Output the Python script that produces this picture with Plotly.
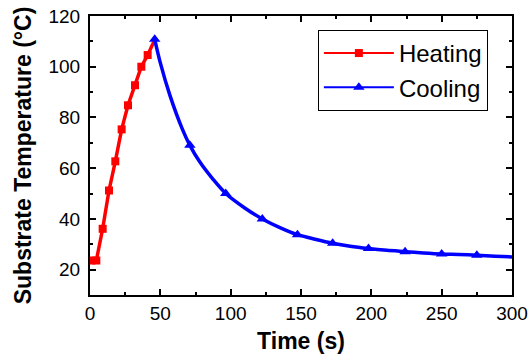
import plotly.graph_objects as go

heat_t = [1, 4.5, 9, 13.5, 18, 22.5, 27, 32, 36.5, 41, 45.5]
heat_T = [23.6, 23.6, 36.1, 51.2, 62.7, 75.3, 84.8, 92.7, 100, 104.6, 110]
heat_marker = [True] * 10 + [False]

cool_t = [46, 50, 57, 65.5, 71, 78, 87.5, 96.5, 110, 122.5, 135, 147.5, 160,
          172.5, 185, 198, 211, 224, 237, 250, 262, 275, 288, 300]
cool_T = [110.8, 101.5, 88.4, 75.6, 69, 62.5, 55.6, 50, 44.3, 40, 36.6, 33.8, 32,
          30.4, 29.2, 28.3, 27.6, 27.1, 26.6, 26.2, 26, 25.7, 25.3, 25]
cool_marker_t = [46, 71, 96.5, 122.5, 147.5, 172.5, 198, 224, 250, 275]

RED = "#ff0000"
BLUE = "#0000ff"
FONT = "Liberation Sans, Arial, sans-serif"

fig = go.Figure()

# Heating
fig.add_trace(go.Scatter(x=heat_t, y=heat_T, mode="lines", line=dict(color=RED, width=3.5),
                         showlegend=False, hoverinfo="skip"))
hm_t = [t for t, m in zip(heat_t, heat_marker) if m]
hm_T = [v for v, m in zip(heat_T, heat_marker) if m]
fig.add_trace(go.Scatter(x=hm_t, y=hm_T, mode="markers",
                         marker=dict(symbol="square", size=8, color=RED),
                         showlegend=False))

# Cooling
fig.add_trace(go.Scatter(x=cool_t, y=cool_T, mode="lines",
                         line=dict(color=BLUE, width=3.5, shape="spline", smoothing=0.8),
                         showlegend=False, hoverinfo="skip"))
cm_T = [cool_T[cool_t.index(t)] for t in cool_marker_t]
fig.add_trace(go.Scatter(x=cool_marker_t, y=cm_T, mode="markers",
                         marker=dict(symbol="triangle-up", size=10, color=BLUE),
                         showlegend=False))

# Legend entries
fig.add_trace(go.Scatter(x=[None], y=[None], mode="lines+markers", name="Heating",
                         line=dict(color=RED, width=2), marker=dict(symbol="square", size=8, color=RED)))
fig.add_trace(go.Scatter(x=[None], y=[None], mode="lines+markers", name="Cooling",
                         line=dict(color=BLUE, width=2), marker=dict(symbol="triangle-up", size=10, color=BLUE)))

axis_common = dict(showline=True, linecolor="black", linewidth=2, mirror="allticks",
                   ticks="inside", ticklen=6, tickwidth=1.5, tickcolor="black",
                   showgrid=False, zeroline=False, automargin=False,
                   tickfont=dict(family=FONT, size=19, color="black"))

fig.update_xaxes(range=[0, 300], dtick=50, tick0=0,
                 minor=dict(dtick=25, ticks="inside", ticklen=3, tickwidth=1.5, tickcolor="black"),
                 title=dict(text="<b>Time (s)</b>", font=dict(family=FONT, size=23, color="black"), standoff=10),
                 **axis_common)
fig.update_yaxes(range=[10, 120], dtick=20, tick0=0,
                 minor=dict(dtick=10, ticks="inside", ticklen=3, tickwidth=1.5, tickcolor="black"),
                 title=dict(text="<b>Substrate Temperature (°C)</b>", font=dict(family=FONT, size=23, color="black"), standoff=10),
                 ticklabelstandoff=4,
                 **axis_common)

fig.update_layout(
    width=530, height=360,
    margin=dict(l=90, r=18, t=16, b=65),
    plot_bgcolor="white", paper_bgcolor="white",
    legend=dict(x=0.54, y=0.95, xanchor="left", yanchor="top",
                bordercolor="black", borderwidth=1, bgcolor="white",
                font=dict(family=FONT, size=24, color="black"),
                itemwidth=70, tracegroupgap=0),
    font=dict(family=FONT, color="black"),
)

fig.write_html("out.html")
